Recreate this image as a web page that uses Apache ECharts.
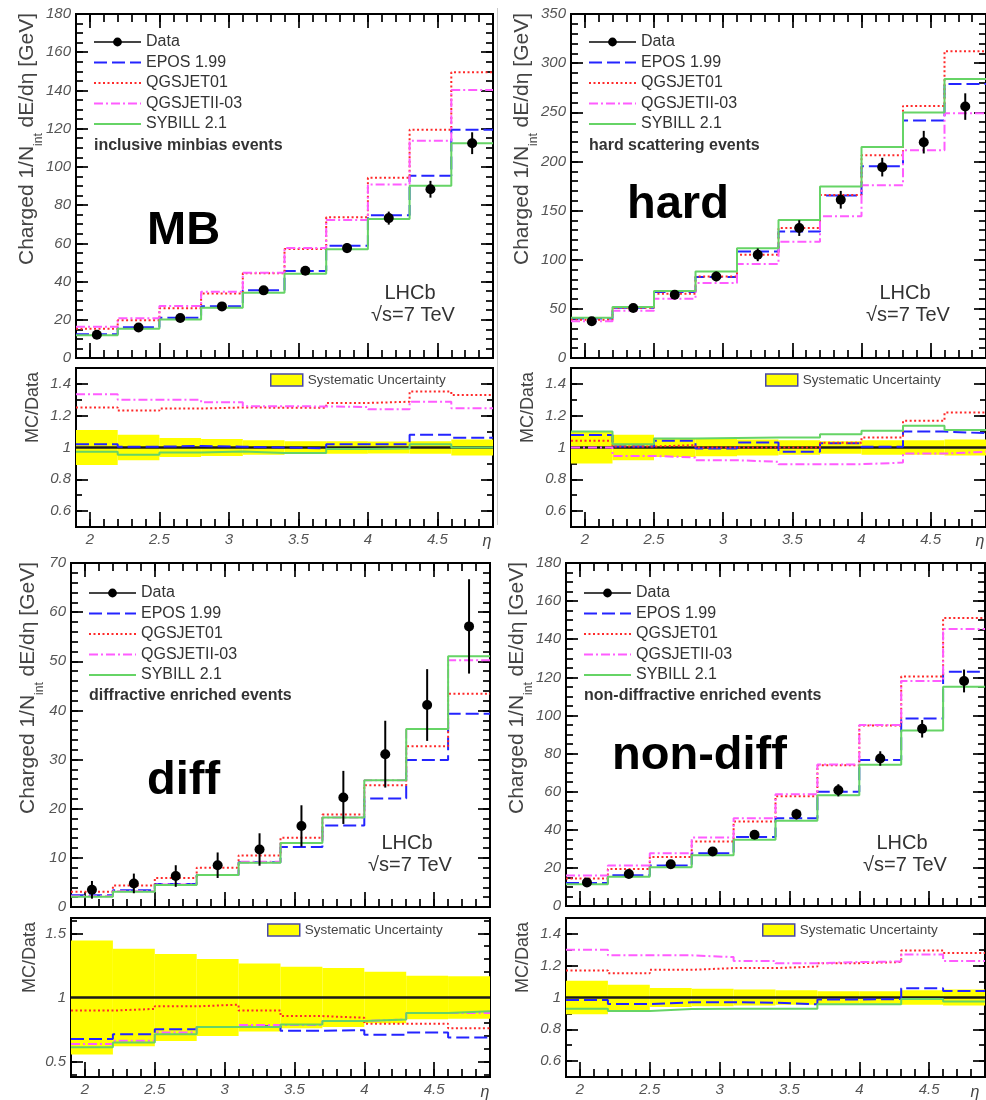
<!DOCTYPE html>
<html>
<head>
<meta charset="utf-8">
<script src="https://cdn.jsdelivr.net/npm/echarts@6/dist/echarts.min.js"></script>
<style>
  html, body { margin: 0; padding: 0; background: #fff; }
  #chart { width: 986px; height: 1100px; }
</style>
</head>
<body>
<div id="chart"></div>
<script>
// ---- binning in pseudorapidity ----
const etaEdges = [1.9, 2.2, 2.5, 2.8, 3.1, 3.4, 3.7, 4.0, 4.3, 4.6, 4.9];
const etaTicks = [2, 2.5, 3, 3.5, 4, 4.5];

// ---- y tick labels ----
const yTicksMB = [0, 20, 40, 60, 80, 100, 120, 140, 160, 180];
const yTicksHard = [0, 50, 100, 150, 200, 250, 300, 350];
const yTicksDiff = [0, 10, 20, 30, 40, 50, 60, 70];
const yTicksNonDiff = [0, 20, 40, 60, 80, 100, 120, 140, 160, 180];
const ratioTicks = [0.6, 0.8, 1, 1.2, 1.4];
const ratioTicksDiff = [0.5, 1, 1.5];

// ---- inclusive minimum bias ----
const mbData = [12.2, 16.0, 20.9, 27.0, 35.4, 45.7, 57.5, 73.2, 88.3, 112.4];
const mbErr = [1.0, 1.0, 1.2, 1.5, 1.8, 2.2, 2.6, 3.4, 4.4, 5.7];
const mbEpos = [12.4, 16.1, 21.1, 27.1, 35.4, 45.5, 58.7, 74.7, 95.4, 119.4];
const mbQgs01 = [15.3, 19.7, 26.0, 33.8, 44.3, 57.1, 73.6, 94.3, 119.4, 149.5];
const mbQgs2 = [16.3, 20.8, 27.2, 34.7, 44.6, 57.5, 72.2, 90.8, 113.7, 140.2];
const mbSib = [11.9, 15.3, 20.2, 26.3, 34.2, 44.1, 56.9, 72.7, 90.1, 112.4];
const mbRatioEpos = [1.02, 1.005, 1.01, 1.005, 1.0, 0.995, 1.02, 1.02, 1.08, 1.062];
const mbRatioQgs01 = [1.252, 1.232, 1.245, 1.252, 1.25, 1.25, 1.28, 1.288, 1.352, 1.33];
const mbRatioQgs2 = [1.335, 1.30, 1.30, 1.285, 1.26, 1.258, 1.255, 1.24, 1.288, 1.247];
const mbRatioSib = [0.973, 0.955, 0.968, 0.975, 0.965, 0.965, 0.99, 0.993, 1.02, 1.0];
const mbSyst = [0.11, 0.08, 0.06, 0.053, 0.045, 0.04, 0.04, 0.038, 0.04, 0.05];

// ---- hard scattering ----
const hardData = [37.3, 50.8, 64.4, 83.0, 105.0, 132.2, 161.0, 194.2, 219.6, 255.8];
const hardErr = [3.0, 3.5, 4.5, 5.0, 6.5, 8.0, 9.0, 9.5, 11.5, 13.5];
const hardEpos = [40.2, 51.1, 67.1, 82.5, 108.4, 128.6, 165.3, 195.0, 241.6, 278.8];
const hardQgs01 = [38.9, 51.1, 65.4, 83.0, 105.0, 132.2, 165.8, 206.4, 256.5, 312.1];
const hardQgs2 = [37.3, 48.1, 60.3, 76.4, 95.6, 118.3, 144.1, 175.8, 211.3, 248.9];
const hardSib = [41.0, 51.8, 68.1, 88.0, 111.6, 140.5, 174.5, 214.6, 249.7, 283.9];
const hardRatioEpos = [1.078, 1.006, 1.042, 0.994, 1.032, 0.973, 1.027, 1.004, 1.10, 1.09];
const hardRatioQgs01 = [1.042, 1.006, 1.015, 1.0, 1.0, 1.0, 1.03, 1.063, 1.168, 1.22];
const hardRatioQgs2 = [1.0, 0.947, 0.937, 0.92, 0.91, 0.895, 0.895, 0.905, 0.962, 0.973];
const hardRatioSib = [1.10, 1.02, 1.057, 1.06, 1.063, 1.063, 1.084, 1.105, 1.137, 1.11];
const hardSyst = [0.10, 0.08, 0.06, 0.055, 0.05, 0.045, 0.04, 0.045, 0.045, 0.05];

// ---- diffractive enriched ----
const diffData = [3.5, 4.8, 6.3, 8.5, 11.7, 16.5, 22.3, 31.1, 41.1, 57.1];
const diffErr = [1.8, 2.0, 2.2, 2.6, 3.3, 4.2, 5.4, 6.8, 7.3, 9.6];
const diffEpos = [2.4, 3.4, 4.7, 6.5, 9.1, 12.2, 16.6, 22.1, 29.9, 39.3];
const diffQgs01 = [3.1, 4.4, 5.9, 8.0, 10.5, 14.1, 18.8, 24.8, 32.7, 43.4];
const diffQgs2 = [2.2, 3.2, 4.6, 6.5, 9.2, 13.0, 18.2, 25.8, 36.2, 50.2];
const diffSib = [2.1, 3.1, 4.5, 6.5, 9.0, 13.0, 18.2, 25.8, 36.2, 51.0];
const diffRatioEpos = [0.676, 0.714, 0.753, 0.77, 0.778, 0.74, 0.745, 0.709, 0.727, 0.689];
const diffRatioQgs01 = [0.898, 0.911, 0.931, 0.944, 0.898, 0.855, 0.842, 0.796, 0.796, 0.76];
const diffRatioQgs2 = [0.638, 0.663, 0.727, 0.77, 0.786, 0.786, 0.816, 0.829, 0.88, 0.88];
const diffRatioSib = [0.612, 0.65, 0.714, 0.77, 0.77, 0.79, 0.816, 0.829, 0.88, 0.893];
const diffSyst = [0.445, 0.38, 0.34, 0.30, 0.265, 0.24, 0.23, 0.20, 0.17, 0.165];

// ---- non-diffractive enriched ----
const ndData = [12.3, 16.8, 21.9, 28.6, 37.4, 48.2, 60.7, 77.4, 93.0, 118.1];
const ndErr = [1.0, 1.2, 1.5, 1.8, 2.2, 2.8, 3.2, 3.8, 4.6, 6.0];
const ndEpos = [12.1, 16.1, 21.2, 27.7, 36.2, 46.1, 60.0, 76.6, 98.4, 122.9];
const ndQgs01 = [14.4, 19.4, 25.7, 33.9, 44.3, 57.6, 73.8, 94.7, 120.4, 151.2];
const ndQgs2 = [16.0, 21.3, 27.7, 35.9, 46.0, 58.6, 74.2, 95.0, 118.1, 145.3];
const ndSib = [11.4, 15.4, 20.3, 26.6, 34.8, 44.8, 58.1, 74.1, 92.1, 115.1];
const ndRatioEpos = [0.984, 0.959, 0.97, 0.97, 0.967, 0.957, 0.988, 0.99, 1.058, 1.041];
const ndRatioQgs01 = [1.17, 1.153, 1.174, 1.185, 1.185, 1.195, 1.216, 1.223, 1.295, 1.28];
const ndRatioQgs2 = [1.30, 1.265, 1.265, 1.254, 1.23, 1.216, 1.223, 1.227, 1.27, 1.23];
const ndRatioSib = [0.93, 0.915, 0.927, 0.93, 0.93, 0.93, 0.957, 0.957, 0.99, 0.975];
const ndSyst = [0.105, 0.08, 0.06, 0.055, 0.05, 0.045, 0.04, 0.04, 0.045, 0.05];

// ---- styling ----
const FONT = "'Liberation Sans', Arial, Helvetica, sans-serif";
const MODEL_NAMES = ['EPOS 1.99', 'QGSJET01', 'QGSJETII-03', 'SYBILL 2.1'];
const MODEL_STYLES = [
  { color: '#2424ff', type: [13, 5] },
  { color: '#ff2a2a', type: [2, 2.5] },
  { color: '#ff5cff', type: [9, 3, 2, 3] },
  { color: '#66d466', type: 'solid' }
];
const TICK_STYLE = { color: '#000', width: 1.7 };

// panel layout and content
const panels = [
  {
    main: { left: 76, top: 14, width: 417, height: 344 },
    ratio: { left: 76, top: 368, width: 417, height: 159 },
    yMax: 180, yTicks: yTicksMB, yMinor: 5,
    rMin: 0.5, rMax: 1.5, rTicks: ratioTicks,
    data: mbData, err: mbErr,
    models: [mbEpos, mbQgs01, mbQgs2, mbSib],
    ratios: [mbRatioEpos, mbRatioQgs01, mbRatioQgs2, mbRatioSib],
    syst: mbSyst,
    tag: 'MB', tagXY: [147, 231],
    sample: 'inclusive minbias events', sampleXY: [94, 146],
    legendXY: [93, 34], lhcbXY: [410, 293],
    yTitleX: 27, rTitleX: 33, sysLegendXY: [270, 373], etaXY: [487, 542]
  },
  {
    main: { left: 571, top: 14, width: 417, height: 344 },
    ratio: { left: 571, top: 368, width: 417, height: 159 },
    yMax: 350, yTicks: yTicksHard, yMinor: 10,
    rMin: 0.5, rMax: 1.5, rTicks: ratioTicks,
    data: hardData, err: hardErr,
    models: [hardEpos, hardQgs01, hardQgs2, hardSib],
    ratios: [hardRatioEpos, hardRatioQgs01, hardRatioQgs2, hardRatioSib],
    syst: hardSyst,
    tag: 'hard', tagXY: [627, 205],
    sample: 'hard scattering events', sampleXY: [589, 146],
    legendXY: [588, 34], lhcbXY: [905, 293],
    yTitleX: 522, rTitleX: 528, sysLegendXY: [765, 373], etaXY: [980, 542]
  },
  {
    main: { left: 71, top: 563, width: 419, height: 344 },
    ratio: { left: 71, top: 918, width: 419, height: 159 },
    yMax: 70, yTicks: yTicksDiff, yMinor: 2,
    rMin: 0.38, rMax: 1.62, rTicks: ratioTicksDiff,
    data: diffData, err: diffErr,
    models: [diffEpos, diffQgs01, diffQgs2, diffSib],
    ratios: [diffRatioEpos, diffRatioQgs01, diffRatioQgs2, diffRatioSib],
    syst: diffSyst,
    tag: 'diff', tagXY: [147, 781],
    sample: 'diffractive enriched events', sampleXY: [89, 696],
    legendXY: [88, 585], lhcbXY: [407, 843],
    yTitleX: 28, rTitleX: 30, sysLegendXY: [267, 923], etaXY: [485, 1093]
  },
  {
    main: { left: 566, top: 563, width: 419, height: 343 },
    ratio: { left: 566, top: 918, width: 419, height: 159 },
    yMax: 180, yTicks: yTicksNonDiff, yMinor: 5,
    rMin: 0.5, rMax: 1.5, rTicks: ratioTicks,
    data: ndData, err: ndErr,
    models: [ndEpos, ndQgs01, ndQgs2, ndSib],
    ratios: [ndRatioEpos, ndRatioQgs01, ndRatioQgs2, ndRatioSib],
    syst: ndSyst,
    tag: 'non-diff', tagXY: [612, 756],
    sample: 'non-diffractive enriched events', sampleXY: [584, 696],
    legendXY: [583, 585], lhcbXY: [902, 843],
    yTitleX: 517, rTitleX: 523, sysLegendXY: [762, 923], etaXY: [975, 1093]
  }
];

// ---- helpers ----
function tickList(min, max, step) {
  const out = [];
  const start = Math.ceil(min / step - 1e-9);
  const end = Math.floor(max / step + 1e-9);
  for (let k = start; k <= end; k++) out.push(+(k * step).toFixed(6));
  return out;
}

function valueAxis(gridIndex, min, max, position, len, ticks, labels) {
  return {
    type: 'value', gridIndex, min, max, position,
    axisLine: { show: false, onZero: false },
    splitLine: { show: false },
    axisTick: { show: true, inside: true, length: len, customValues: ticks, lineStyle: TICK_STYLE },
    axisLabel: labels ? {
      show: true, customValues: labels, margin: 5,
      fontSize: 15, fontStyle: 'italic', color: '#555', fontFamily: FONT
    } : { show: false }
  };
}

// step outline: one point on each bin's lower edge plus the final upper edge
function stepPoints(values) {
  const pts = values.map((v, i) => [etaEdges[i], v]);
  pts.push([etaEdges[etaEdges.length - 1], values[values.length - 1]]);
  return pts;
}

const binCenters = etaEdges.slice(0, -1).map((e, i) => (e + etaEdges[i + 1]) / 2);
const etaMin = etaEdges[0];
const etaMax = etaEdges[etaEdges.length - 1];
const etaMinor = tickList(etaMin, etaMax, 0.1);

const grids = [], xAxes = [], yAxes = [], series = [], legends = [], graphics = [];

function text(x, y, str, o) {
  graphics.push({
    type: 'text', x, y, silent: true, z: 50, rotation: o.rotation || 0,
    style: {
      text: str, fill: o.fill || '#333', fontFamily: FONT, fontSize: o.size || 16,
      fontWeight: o.weight || 'normal', fontStyle: o.fontStyle || 'normal',
      align: o.align || 'left', verticalAlign: o.va || 'middle'
    }
  });
}

function addPanel(p) {
  const gMain = grids.length;
  grids.push(Object.assign({ show: true, borderColor: '#000', borderWidth: 2, backgroundColor: 'transparent' }, p.main));
  const gRatio = grids.length;
  grids.push(Object.assign({ show: true, borderColor: '#000', borderWidth: 2, backgroundColor: 'transparent' }, p.ratio));

  // main frame axes (ticks on all four sides)
  const xm = xAxes.length;
  xAxes.push(valueAxis(gMain, etaMin, etaMax, 'bottom', 15, etaTicks));
  xAxes.push(valueAxis(gMain, etaMin, etaMax, 'bottom', 8, etaMinor));
  xAxes.push(valueAxis(gMain, etaMin, etaMax, 'top', 14, etaTicks));
  xAxes.push(valueAxis(gMain, etaMin, etaMax, 'top', 8, etaMinor));
  const yMinorTicks = tickList(0, p.yMax, p.yMinor);
  const ym = yAxes.length;
  yAxes.push(valueAxis(gMain, 0, p.yMax, 'left', 12, p.yTicks, p.yTicks));
  yAxes.push(valueAxis(gMain, 0, p.yMax, 'left', 7, yMinorTicks));
  yAxes.push(valueAxis(gMain, 0, p.yMax, 'right', 12, p.yTicks));
  yAxes.push(valueAxis(gMain, 0, p.yMax, 'right', 7, yMinorTicks));

  // ratio frame axes
  const xr = xAxes.length;
  xAxes.push(valueAxis(gRatio, etaMin, etaMax, 'bottom', 15, etaTicks, etaTicks));
  xAxes.push(valueAxis(gRatio, etaMin, etaMax, 'bottom', 8, etaMinor));
  const rMinorTicks = tickList(p.rMin, p.rMax, 0.1);
  const yr = yAxes.length;
  yAxes.push(valueAxis(gRatio, p.rMin, p.rMax, 'left', 12, p.rTicks, p.rTicks));
  yAxes.push(valueAxis(gRatio, p.rMin, p.rMax, 'left', 6, rMinorTicks));
  yAxes.push(valueAxis(gRatio, p.rMin, p.rMax, 'right', 12, p.rTicks));
  yAxes.push(valueAxis(gRatio, p.rMin, p.rMax, 'right', 6, rMinorTicks));

  // measured points first so the legend icon comes from them
  series.push({
    type: 'line', name: 'Data', xAxisIndex: xm, yAxisIndex: ym,
    data: binCenters.map((c, i) => [c, p.data[i]]),
    symbol: 'circle', symbolSize: 10, showSymbol: true, showAllSymbol: true,
    lineStyle: { opacity: 0, width: 0 }, itemStyle: { color: '#000' }, z: 10, silent: true
  });
  series.push({
    type: 'custom', xAxisIndex: xm, yAxisIndex: ym, z: 9, silent: true,
    data: binCenters.map((c, i) => [c, p.data[i] - p.err[i], p.data[i] + p.err[i]]),
    renderItem: (params, api) => {
      const a = api.coord([api.value(0), api.value(1)]);
      const b = api.coord([api.value(0), api.value(2)]);
      return { type: 'line', shape: { x1: a[0], y1: a[1], x2: b[0], y2: b[1] }, style: { stroke: '#000', lineWidth: 2 } };
    }
  });

  // generator predictions
  MODEL_NAMES.forEach((name, m) => {
    const st = MODEL_STYLES[m];
    series.push({
      type: 'line', name, xAxisIndex: xm, yAxisIndex: ym, step: 'end', symbol: 'none', silent: true,
      data: stepPoints(p.models[m]),
      lineStyle: { color: st.color, width: 2, type: st.type }, itemStyle: { color: st.color }, z: 3 + m
    });
  });

  // systematic band on the ratio
  series.push({
    type: 'custom', name: 'Systematic Uncertainty', xAxisIndex: xr, yAxisIndex: yr, z: 1, silent: true,
    itemStyle: { color: '#ffff00' },
    data: p.syst.map((s, i) => [etaEdges[i], etaEdges[i + 1], 1 - s, 1 + s]),
    renderItem: (params, api) => {
      const a = api.coord([api.value(0), api.value(3)]);
      const b = api.coord([api.value(1), api.value(2)]);
      return { type: 'rect', shape: { x: a[0], y: a[1], width: b[0] - a[0], height: b[1] - a[1] }, style: { fill: '#ffff00' } };
    }
  });
  // unity reference
  series.push({
    type: 'line', xAxisIndex: xr, yAxisIndex: yr, symbol: 'none', silent: true, z: 2,
    data: [[etaMin, 1], [etaMax, 1]], lineStyle: { color: '#1a1a1a', width: 2.5 }
  });
  MODEL_NAMES.forEach((name, m) => {
    const st = MODEL_STYLES[m];
    series.push({
      type: 'line', name, xAxisIndex: xr, yAxisIndex: yr, step: 'end', symbol: 'none', silent: true,
      data: stepPoints(p.ratios[m]),
      lineStyle: { color: st.color, width: 2, type: st.type }, itemStyle: { color: st.color }, z: 3 + m
    });
  });

  // legends
  legends.push({
    left: p.legendXY[0], top: p.legendXY[1], orient: 'vertical', padding: 0,
    itemWidth: 47, itemHeight: 11, itemGap: 4.5, selectedMode: false,
    textStyle: { fontSize: 16, color: '#333', fontFamily: FONT, lineHeight: 14 },
    data: [
      { name: 'Data', lineStyle: { color: '#444', width: 2, opacity: 1, type: 'solid' }, itemStyle: { color: '#000', opacity: 1 } }
    ].concat(MODEL_NAMES.map(n => ({ name: n, itemStyle: { color: 'rgba(0,0,0,0)', opacity: 0, borderWidth: 0 } })))
  });
  legends.push({
    left: p.sysLegendXY[0], top: p.sysLegendXY[1], orient: 'horizontal', padding: 0,
    itemWidth: 32, itemHeight: 12, selectedMode: false,
    textStyle: { fontSize: 13.5, color: '#444', fontFamily: FONT },
    data: [{ name: 'Systematic Uncertainty', icon: 'rect', itemStyle: { color: '#ffff00', borderColor: '#4848a8', borderWidth: 1.5 } }]
  });

  // axis titles
  graphics.push({
    type: 'text', x: p.yTitleX, y: p.main.top - 1, rotation: Math.PI / 2, silent: true, z: 50,
    style: {
      text: '{a|Charged 1/N}{s|int}{a| dE/dη [GeV]}', align: 'right', verticalAlign: 'middle',
      rich: {
        a: { fontSize: 21, fontFamily: FONT, fill: '#444', lineHeight: 36 },
        s: { fontSize: 12, fontFamily: FONT, fill: '#444', lineHeight: 12, verticalAlign: 'bottom' }
      }
    }
  });
  text(p.rTitleX, p.ratio.top + 4, 'MC/Data', { rotation: Math.PI / 2, align: 'right', size: 18, fill: '#444' });
  text(p.etaXY[0], p.etaXY[1], 'η', { size: 16, fill: '#444', align: 'center', fontStyle: 'italic' });

  // annotations
  text(p.tagXY[0], p.tagXY[1], p.tag, { size: 47, weight: 'bold', fill: '#000' });
  text(p.sampleXY[0], p.sampleXY[1], p.sample, { size: 16, weight: 'bold', fill: '#333' });
  text(p.lhcbXY[0], p.lhcbXY[1], 'LHCb', { size: 20, fill: '#333', align: 'center' });
  text(p.lhcbXY[0] + 3, p.lhcbXY[1] + 22, '√s=7 TeV', { size: 20, fill: '#333', align: 'center' });
}

panels.forEach(addPanel);

// pad separator on the right-hand column
graphics.push({ type: 'line', silent: true, z: 0, shape: { x1: 497.5, y1: 8, x2: 497.5, y2: 525 }, style: { stroke: '#c8c8c8', lineWidth: 1 } });

const chart = echarts.init(document.getElementById('chart'), null, { renderer: 'canvas' });
chart.setOption({
  animation: false,
  backgroundColor: '#fff',
  grid: grids,
  xAxis: xAxes,
  yAxis: yAxes,
  legend: legends,
  series: series,
  graphic: graphics
});
</script>
</body>
</html>
